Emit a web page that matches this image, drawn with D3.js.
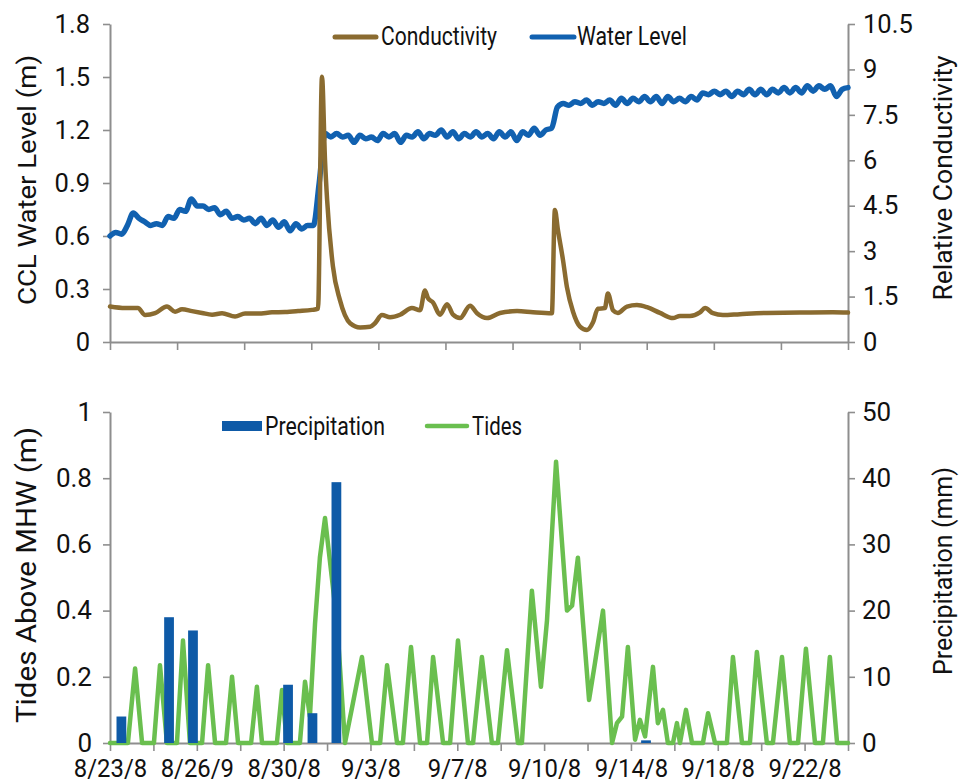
<!DOCTYPE html>
<html><head><meta charset="utf-8">
<script src="https://cdn.jsdelivr.net/npm/d3@7"></script>
<style>
body{margin:0;background:#fff;}
svg{display:block;}
</style></head><body>
<svg id="chart" width="970" height="784"></svg>
<script>
// ---------------- DATA ----------------
// time unit: days since 8/23 (x axis spans 0 .. 31.75 days)
const waterStep = 0.25; // days between water-level samples
const waterLevel = [
  0.60,0.62,0.61,0.66,0.73,0.70,0.68,0.66,
  0.67,0.66,0.71,0.70,0.75,0.74,0.81,0.77,
  0.77,0.75,0.76,0.72,0.74,0.70,0.71,0.69,
  0.70,0.67,0.70,0.66,0.69,0.65,0.68,0.63,
  0.67,0.64,0.66,0.66,0.90,1.18,1.16,1.18,
  1.16,1.17,1.13,1.17,1.15,1.16,1.14,1.18,
  1.16,1.18,1.13,1.17,1.16,1.19,1.15,1.18,
  1.17,1.20,1.16,1.19,1.15,1.18,1.16,1.19,
  1.16,1.18,1.15,1.19,1.16,1.19,1.14,1.19,
  1.17,1.21,1.17,1.20,1.21,1.33,1.35,1.34,
  1.36,1.35,1.37,1.34,1.36,1.35,1.37,1.34,
  1.38,1.35,1.38,1.36,1.39,1.36,1.39,1.35,
  1.39,1.36,1.38,1.36,1.39,1.37,1.41,1.40,
  1.42,1.40,1.42,1.39,1.42,1.40,1.43,1.40,
  1.43,1.40,1.43,1.41,1.44,1.41,1.44,1.41,
  1.45,1.42,1.45,1.43,1.45,1.39,1.43,1.44
];
const condDays = [0,0.65,1.2,1.51,1.94,2.45,2.8,3.1,3.53,3.96,4.39,4.82,5.38,5.81,6.37,6.97,7.53,8.09,8.69,8.95,
  9.12,9.25,9.34,9.59,9.89,10.33,10.76,11.19,11.4,11.7,12.05,12.48,12.99,13.34,13.55,13.68,13.9,14.2,14.5,14.76,
  15.06,15.49,15.79,16.22,16.78,17.51,18.2,19.01,19.14,19.27,19.49,19.66,19.92,20.22,20.52,20.78,20.99,21.29,21.42,21.64,
  21.85,22.24,22.67,23.1,23.66,24.22,24.52,24.95,25.38,25.6,25.94,26.37,27.1,28.26,29.68,31.1,31.75];
const condValues = [1.17,1.12,1.12,0.89,0.95,1.17,1.0,1.08,1.02,0.96,0.9,0.95,0.84,0.94,0.94,0.98,0.99,1.02,1.06,1.1,
  8.76,6.0,4.7,2.5,1.39,0.62,0.48,0.5,0.62,0.89,0.82,0.9,1.12,1.05,1.7,1.45,1.3,0.9,1.25,0.9,
  0.79,1.2,0.95,0.79,0.96,1.02,0.98,0.95,4.36,3.7,2.7,1.8,1.0,0.51,0.4,0.65,1.1,1.12,1.6,1.05,
  0.96,1.17,1.22,1.15,0.96,0.79,0.86,0.86,0.98,1.12,0.95,0.89,0.92,0.96,0.97,0.98,0.97];
const tideDays = [0,0.77,1.08,1.38,1.89,2.15,2.45,2.88,3.14,3.44,
  3.96,4.22,4.52,4.99,5.25,5.51,6.07,6.32,6.54,7.18,
  7.40,7.61,8.17,8.39,8.60,8.82,9.03,9.25,9.77,10.11,
  10.45,10.84,11.27,11.62,11.92,12.35,12.60,12.95,13.34,13.64,
  13.90,14.33,14.63,14.97,15.40,15.62,16.00,16.43,16.69,17.08,
  17.55,17.72,18.15,18.54,18.80,19.19,19.66,19.88,20.13,20.61,
  20.86,21.21,21.60,21.81,22.03,22.28,22.59,22.80,23.02,23.36,
  23.57,23.79,24.00,24.22,24.39,24.52,24.78,25.04,25.51,25.73,
  26.03,26.54,26.80,27.19,27.53,27.83,28.26,28.52,28.91,29.25,
  29.60,29.94,30.33,30.67,30.97,31.28,31.75];
const tideValues = [0,0,0.225,0,0,0.235,0,0,0.31,0,
  0,0.235,0,0,0.20,0,0,0.17,0,0,
  0.16,0,0,0.185,0.08,0.36,0.56,0.68,0.36,0,
  0.12,0.26,0,0,0.235,0,0,0.29,0,0,
  0.26,0,0,0.31,0,0,0.26,0,0,0.28,
  0,0,0.46,0.17,0.37,0.85,0.40,0.415,0.56,0.13,
  0.24,0.40,0,0.06,0.08,0.29,0.01,0.07,0.02,0.23,
  0.06,0.10,0,0,0.06,0,0.10,0,0,0.09,
  0,0,0.26,0,0,0.275,0,0,0.26,0,
  0,0.285,0,0,0.26,0,0];
const precipDays = [0.49,2.54,3.57,7.66,8.71,9.74,23.06];
const precipValues = [4,19,17,8.8,4.5,39.4,0.4];
const precipBarDays = 0.42;
const xTickLabels = ["8/23/8","8/26/9","8/30/8","9/3/8","9/7/8","9/10/8","9/14/8","9/18/8","9/22/8"];
const topLeftTicks = [0,0.3,0.6,0.9,1.2,1.5,1.8];
const topRightTicks = [0,1.5,3,4.5,6,7.5,9,10.5];
const botLeftTicks = [0,0.2,0.4,0.6,0.8,1];
const botRightTicks = [0,10,20,30,40,50];
const topTickCount = 11, botTickCount = 17;

// ---------------- STYLE ----------------
const C_COND = "#8a6b30", C_WATER = "#1161b0", C_TIDE = "#6abf4f", C_PRECIP = "#0e5aa7";
const AXIS = "#8e8e8e";
const FONT = "Roboto, 'Liberation Sans', Arial, sans-serif";
const NARROW = "'Liberation Sans Narrow', Roboto, sans-serif";

const svg = d3.select("#chart");
svg.append("rect").attr("width",970).attr("height",784).attr("fill","#fff");

const X0 = 110, X1 = 848;
const x = d3.scaleLinear().domain([0, 31.75]).range([X0, X1]);
const yTL = d3.scaleLinear().domain([0,1.8]).range([342,24]);
const yTR = d3.scaleLinear().domain([0,10.5]).range([342,24]);
const yBL = d3.scaleLinear().domain([0,1]).range([743,412]);
const yBR = d3.scaleLinear().domain([0,50]).range([743,412]);
const xTopTicks = d3.scaleLinear().domain([0,topTickCount]).range([X0,X1]);
const xBotTicks = d3.scaleLinear().domain([0,botTickCount]).range([X0,X1]);

function styleAxis(g, fs){
  g.select(".domain").attr("stroke",AXIS).attr("stroke-width",2);
  g.selectAll(".tick line").attr("stroke",AXIS).attr("stroke-width",1.6);
  g.selectAll(".tick text").attr("fill","#111").style("font-family",FONT).style("font-size",fs+"px");
}

// ---- top chart axes ----
svg.append("g").attr("transform",`translate(${X0},0)`)
  .call(d3.axisLeft(yTL).tickValues(topLeftTicks).tickFormat(d3.format("~g")).tickSize(7).tickSizeOuter(0).tickPadding(13))
  .call(g=>styleAxis(g,25.5));
svg.append("g").attr("transform",`translate(${X1},0)`)
  .call(d3.axisRight(yTR).tickValues(topRightTicks).tickFormat(d3.format("~g")).tickSize(7).tickSizeOuter(0).tickPadding(8))
  .call(g=>styleAxis(g,25.5));
svg.append("g").attr("transform",`translate(0,342)`)
  .call(d3.axisBottom(xTopTicks).tickValues(d3.range(topTickCount+1)).tickFormat("").tickSize(8).tickSizeOuter(0))
  .call(g=>styleAxis(g,25));

// ---- top chart lines ----
const waterLine = d3.line().x((d,i)=>x(i*waterStep)).y(d=>yTL(d)).curve(d3.curveMonotoneX);
svg.append("path").datum(waterLevel).attr("d",waterLine)
  .attr("fill","none").attr("stroke",C_WATER).attr("stroke-width",5.5)
  .attr("stroke-linejoin","round").attr("stroke-linecap","round");
const condLine = d3.line().x(d=>x(d[0])).y(d=>yTR(d[1])).curve(d3.curveMonotoneX);
svg.append("path").datum(d3.zip(condDays,condValues)).attr("d",condLine)
  .attr("fill","none").attr("stroke",C_COND).attr("stroke-width",4.5)
  .attr("stroke-linejoin","round").attr("stroke-linecap","round");

// ---- bottom chart axes ----
svg.append("g").attr("transform",`translate(${X0},0)`)
  .call(d3.axisLeft(yBL).tickValues(botLeftTicks).tickFormat(d3.format("~g")).tickSize(7).tickSizeOuter(0).tickPadding(11))
  .call(g=>styleAxis(g,26));
svg.append("g").attr("transform",`translate(${X1},0)`)
  .call(d3.axisRight(yBR).tickValues(botRightTicks).tickFormat(d3.format("~g")).tickSize(7).tickSizeOuter(0).tickPadding(7))
  .call(g=>styleAxis(g,26));
const xAxisG = svg.append("g").attr("transform",`translate(0,743)`)
  .call(d3.axisBottom(xBotTicks).tickValues(d3.range(botTickCount+1))
    .tickFormat(k => k%2===0 ? xTickLabels[k/2] : "").tickSize(8).tickSizeOuter(0).tickPadding(7))
  .call(g=>styleAxis(g,26.5));
xAxisG.selectAll(".tick text").each(function(){
  const w = this.getComputedTextLength();
  if (w > 0) d3.select(this).attr("textLength", w*0.9).attr("lengthAdjust","spacingAndGlyphs");
});

// ---- bottom chart marks ----
const tideLine = d3.line().x(d=>x(d[0])).y(d=>yBL(d[1]));
svg.append("path").datum(d3.zip(tideDays,tideValues)).attr("d",tideLine)
  .attr("fill","none").attr("stroke",C_TIDE).attr("stroke-width",4.5)
  .attr("stroke-linejoin","round").attr("stroke-linecap","round");
const bw = x(precipBarDays)-x(0);
svg.append("g").selectAll("rect").data(d3.zip(precipDays,precipValues)).join("rect")
  .attr("x",d=>x(d[0])-bw/2).attr("width",bw)
  .attr("y",d=>yBR(d[1])).attr("height",d=>yBR(0)-yBR(d[1]))
  .attr("fill",C_PRECIP);

// ---- axis titles ----
function vTitle(txt, tx, ty, fs, len){
  svg.append("text").attr("transform",`translate(${tx},${ty}) rotate(-90)`)
    .attr("text-anchor","middle").style("font-family",FONT).style("font-size",fs+"px")
    .attr("textLength",len).attr("lengthAdjust","spacingAndGlyphs")
    .attr("fill","#111").text(txt);
}
vTitle("CCL Water Level (m)", 36, 180, 26.5, 250);
vTitle("Relative Conductivity", 952, 178, 26, 245);
vTitle("Tides Above MHW (m)", 36, 575, 28.5, 296);
vTitle("Precipitation (mm)", 952, 571, 26, 208);

// ---- legends ----
function legLine(x1,x2,y,col,w){
  svg.append("line").attr("x1",x1).attr("x2",x2).attr("y1",y).attr("y2",y)
    .attr("stroke",col).attr("stroke-width",w).attr("stroke-linecap","round");
}
function legText(txt,tx,ty,len){
  svg.append("text").attr("x",tx).attr("y",ty).style("font-family",NARROW)
    .style("font-size","26px").attr("textLength",len).attr("lengthAdjust","spacingAndGlyphs")
    .attr("fill","#111").text(txt);
}
legLine(335,376,37,C_COND,5);
legText("Conductivity",381,45,116);
legLine(532,574,37,C_WATER,5);
legText("Water Level",577,45,110);

svg.append("rect").attr("x",222).attr("y",421).attr("width",40).attr("height",10).attr("fill",C_PRECIP);
legText("Precipitation",265,435,120);
legLine(427,467,426,C_TIDE,4.5);
legText("Tides",472,435,50);
</script>
</body></html>
